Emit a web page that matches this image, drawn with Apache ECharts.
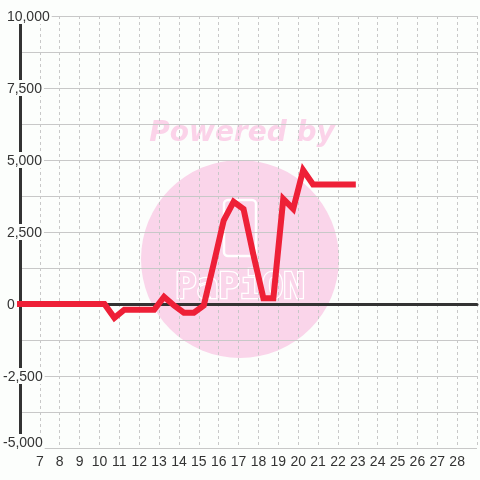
<!DOCTYPE html>
<html>
<head>
<meta charset="utf-8">
<script src="https://cdn.jsdelivr.net/npm/echarts@6/dist/echarts.min.js"></script>
<style>
html,body{margin:0;padding:0;background:#fcfefc;}
#chart{width:480px;height:480px;}
</style>
</head>
<body>
<div id="chart"></div>
<script>
// Data
const xValues = [6, 6.25, 6.75, 7.25, 7.75, 8.25, 8.75, 9.25, 9.75, 10.25, 10.75, 11.25, 11.75, 12.25, 12.75,
  13.25, 13.75, 14.25, 14.75, 15.25, 15.75, 16.25, 16.75, 17.25, 17.75, 18.25, 18.75,
  19.25, 19.75, 20.25, 20.75, 21.25, 21.75, 22.25, 22.75];
const yValues = [0, 0, 0, 0, 0, 0, 0, 0, 0, 0, -480, -200, -200, -200, -200,
  250, -50, -300, -300, -50, 1400, 2900, 3550, 3300, 1700, 200, 200,
  3650, 3300, 4650, 4150, 4150, 4150, 4150, 4150];
const xTickLabels = ['7','8','9','10','11','12','13','14','15','16','17','18','19','20','21','22','23','24','25','26','27','28'];
const yTickValues = [-5000, -2500, 0, 2500, 5000, 7500, 10000];
const watermarkText = 'Powered by';
const logoText = 'PaPiON';

const BG = '#fcfefc';
const chart = echarts.init(document.getElementById('chart'), null, {renderer: 'canvas'});
const seriesData = xValues.map((x, i) => [x, yValues[i]]);

function fmtY(v) {
  const s = Math.abs(v).toLocaleString('en-US');
  if (v === yTickValues[0]) return '{m|-' + s + '}';
  return v < 0 ? '-' + s : ' ' + s;
}

chart.setOption({
  backgroundColor: BG,
  animation: false,
  textStyle: {fontFamily: 'Liberation Sans'},
  grid: {left: 20, right: -1, top: 16, bottom: 32, containLabel: false},
  graphic: [
    {type: 'circle', z: -10, silent: true, shape: {cx: 240, cy: 259, r: 99}, style: {fill: '#fad5ea'}},
    {type: 'text', z: -10, silent: true, x: 242, y: 134,
      style: {text: watermarkText, font: 'italic bold 28px "DejaVu Sans"', fill: '#fbd3e9', align: 'center', verticalAlign: 'middle'}},
    {type: 'rect', z: -9, silent: true, shape: {x: 224, y: 200, width: 32, height: 56, r: 4},
      style: {fill: 'none', stroke: '#ffffff', lineWidth: 2.5}},
    {type: 'text', z: -9, silent: true, x: 240, y: 289,
      style: {text: logoText, font: 'bold 36px "DejaVu Sans Mono"', fill: '#fad5ea', stroke: '#ffffff', lineWidth: 2.5, align: 'center', verticalAlign: 'middle'}}
  ],
  xAxis: [
    {
      type: 'value', min: 6, max: 29, interval: 1, position: 'bottom',
      axisLine: {show: false, onZero: false},
      axisTick: {show: false},
      axisLabel: {
        color: '#333', fontSize: 14, margin: 7, fontFamily: 'Liberation Sans',
        formatter: v => xTickLabels.indexOf(String(v)) >= 0 ? String(v) : ''
      },
      splitLine: {show: true, lineStyle: {color: '#c8c8c8', width: 1, type: [3, 3]}}
    },
    {
      type: 'value', min: 6, max: 29, position: 'top',
      axisLine: {show: true, onZero: true, lineStyle: {color: '#333', width: 3}},
      axisTick: {show: false}, axisLabel: {show: false}, splitLine: {show: false}
    }
  ],
  yAxis: {
    type: 'value', min: -5000, max: 10000, interval: 2500,
    axisLine: {show: true, onZero: false, lineStyle: {color: '#333', width: 3}},
    axisTick: {show: false},
    minorTick: {show: false, splitNumber: 2},
    minorSplitLine: {show: true, lineStyle: {color: '#c8c8c8', width: 1}},
    splitLine: {show: true, lineStyle: {color: '#c8c8c8', width: 1}},
    axisLabel: {
      color: '#333', fontSize: 14, fontFamily: 'Liberation Sans',
      align: 'left', margin: 17,
      backgroundColor: BG, padding: [2, 2, 0, 0],
      formatter: fmtY,
      rich: {m: {color: '#333', fontSize: 14, fontFamily: 'Liberation Sans', padding: [0, 0, 12, 0]}}
    }
  },
  series: [{
    type: 'line', xAxisIndex: 0, yAxisIndex: 0,
    data: seriesData, symbol: 'none', clip: true,
    lineStyle: {color: '#ee2037', width: 6, cap: 'square', join: 'miter'},
    z: 5
  }]
});
</script>
</body>
</html>
